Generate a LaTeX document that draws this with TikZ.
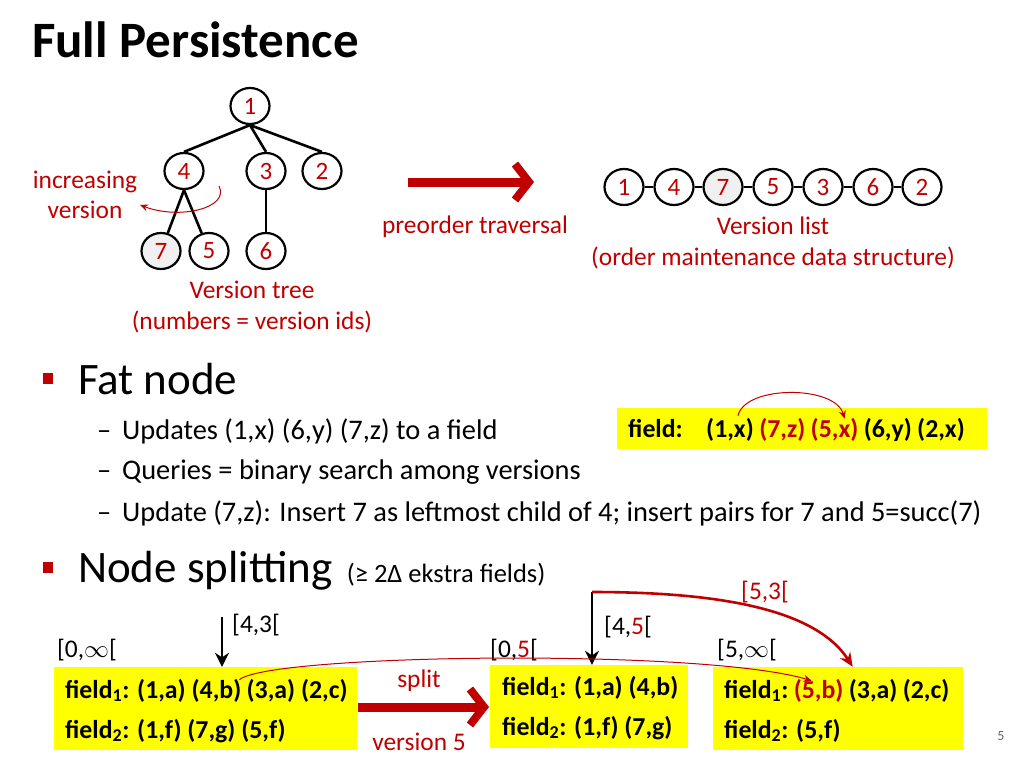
\documentclass[tikz,border=0pt]{standalone}
\usepackage{fontspec}
\setmainfont{Carlito}
\usetikzlibrary{positioning,arrows.meta,shapes.geometric}
\definecolor{darkred}{RGB}{192,0,0}
\definecolor{hiyellow}{RGB}{255,255,0}
\tikzset{
  vnode/.style  ={draw, ellipse, line width=2.2pt, minimum width=39pt, minimum height=36pt, inner sep=0pt, text=darkred, font=\fontsize{25}{29}\selectfont},
  edge/.style   ={line width=2.6pt},
  link/.style   ={line width=2pt},
  lbl/.style    ={text=darkred, align=center, inner sep=0pt, font=\fontsize{25.4}{30.5}\selectfont},
  head/.style   ={anchor=base west, inner sep=0pt, font=\fontsize{45}{50}\selectfont},
  item/.style   ={anchor=base west, inner sep=0pt, font=\fontsize{28.4}{32}\selectfont},
  ival/.style   ={anchor=base west, inner sep=0pt, font=\fontsize{25.4}{29}\selectfont},
  bullet/.style ={fill=darkred, inner sep=0pt, minimum width=10pt, minimum height=11pt},
  ybox/.style   ={fill=hiyellow, inner sep=0pt},
  fld/.style    ={anchor=base west, inner sep=0pt, font=\bfseries\fontsize{25.8}{29}\selectfont},
  bigarr/.style ={draw=darkred, line width=9pt, -{Straight Barb[length=14pt, width=36pt, line width=8pt]}},
  thinarr/.style={draw=darkred, line width=1pt, -{Stealth[length=8pt, width=7pt]}},
  redarr/.style ={draw=darkred, line width=2.6pt, -{Stealth[length=14pt, width=12pt]}},
  downarr/.style={line width=2.8pt, -{Stealth[length=14pt, width=14pt]}},
}
\begin{document}
\begin{tikzpicture}[x=1pt, y=-1pt]
  \useasboundingbox (0,0) rectangle (1024,768);

  % Title
  \node[anchor=base west, inner sep=0pt, font=\bfseries\fontsize{51}{56}\selectfont] (title) at (32,58) {Full Persistence};

  % Version tree
  \node[vnode] (v1) at (250,106) {1};
  \node[vnode] (v4) at (184,171) {4};
  \node[vnode] (v3) at (266,171) {3};
  \node[vnode] (v2) at (322,171) {2};
  \node[vnode, fill=gray!12] (v7) at (161,251) {7};
  \node[vnode] (v5) at (209,251) {5};
  \node[vnode] (v6) at (266,251) {6};
  \draw[edge] (v1.south) -- (v4.north);
  \draw[edge] (v1.south) -- (v3.north);
  \draw[edge] (v1.south) -- (v2.north);
  \draw[edge] (v4.south) -- (v7);
  \draw[edge] (v4.south) -- (v5);
  \draw[edge] (v3.south) -- (v6.north);

  \node[lbl] (incr) at (85,195) {increasing\\version};
  \coordinate (incA) at (219,186);
  \coordinate (incB) at (140,205);
  \draw[thinarr] (incA) .. controls (230,208) and (180,220) .. (incB);
  \node[lbl] (treelbl) at (252,307) {Version tree\\(numbers = version ids)};

  % preorder traversal
  \coordinate (pa) at (408,182);
  \coordinate (pb) at (534,182);
  \draw[bigarr] (pa) -- (pb);
  \node[lbl] (trav) at (475,227) {preorder traversal};

  % Version list
  \node[vnode] (l1) at (624,187) {1};
  \node[vnode] (l2) at (674,187) {4};
  \node[vnode, fill=gray!12] (l3) at (723,187) {7};
  \node[vnode] (l4) at (773,187) {5};
  \node[vnode] (l5) at (823,187) {3};
  \node[vnode] (l6) at (873,187) {6};
  \node[vnode] (l7) at (922,187) {2};
  \foreach \a/\b in {l1/l2,l2/l3,l3/l4,l4/l5,l5/l6,l6/l7}
    \draw[link] (\a.east) -- (\b.west);
  \node[lbl] (listlbl) at (773,243) {Version list\\(order maintenance data structure)};

  % Fat node
  \node[bullet] (b1) at (48,378) {};
  \node[head] (fat) at (78,394) {Fat node};
  \node[item] (d1) at (97,439) {--};
  \node[item] (i1) at (122,439) {Updates (1,x) (6,y) (7,z) to a field};
  \node[item] (d2) at (97,479) {--};
  \node[item] (i2) at (122,479) {Queries = binary search among versions};
  \node[item] (d3) at (97,521) {--};
  \node[item] (i3) at (122,521) {Update (7,z): Insert 7 as leftmost child of 4; insert pairs for 7 and 5=succ(7)};

  \node[ybox, minimum width=370pt, minimum height=41pt] (fbox) at (802,428.5) {};
  \node[fld] (f0) at (628,437) {field:};
  \node[fld] (p1) at (706,437) {(1,x)};
  \node[fld, text=darkred] (p2) at ([xshift=5pt]p1.base east) {(7,z)};
  \node[fld, text=darkred] (p3) at ([xshift=5pt]p2.base east) {(5,x)};
  \node[fld] (p4) at ([xshift=5pt]p3.base east) {(6,y)};
  \node[fld] (p5) at ([xshift=5pt]p4.base east) {(2,x)};
  \draw[thinarr] ([xshift=8pt, yshift=2pt]p1.north) .. controls (745,385) and (835,385) .. ([xshift=10pt, yshift=-1pt]p3.north);

  % Node splitting
  \node[bullet] (b2) at (48,567) {};
  \node[head] (split) at (78,582) {Node splitting};
  \node[ival, font=\fontsize{26.5}{30}\selectfont] (delta) at ([xshift=14pt]split.base east) {(≥ 2∆ ekstra fields)};

  % before the split
  \node[ybox, minimum width=303pt, minimum height=83pt] (nd1) at (205.5,708.5) {};
  \node[fld] (a1) at (65,698) {field\textsubscript{1}: (1,a) (4,b)};
  \node[fld] (a1r) at ([xshift=5pt]a1.base east) {(3,a) (2,c)};
  \node[fld] (a2) at (65,738) {field\textsubscript{2}: (1,f) (7,g) (5,f)};
  \node[ival] (r0) at (57,657) {[0,$\infty$[};
  \coordinate (q1) at (222,617);
  \draw[downarr] (q1) -- (q1 |- nd1.north);
  \node[ival] (r1) at (232,632) {[4,3[};

  % split arrow
  \coordinate (sa) at (358,707);
  \coordinate (sb) at (489,707);
  \draw[bigarr] (sa) -- (sb);
  \node[lbl] (spl) at (419,681) {split};
  \node[lbl] (ver) at (419,742) {version 5};

  % after the split
  \node[ybox, minimum width=198pt, minimum height=83pt] (nd2) at (589,706.5) {};
  \node[fld] (b1l) at (502,695) {field\textsubscript{1}: (1,a) (4,b)};
  \node[fld] (b2l) at (502,735) {field\textsubscript{2}: (1,f) (7,g)};
  \node[ival] (r2) at (490,657) {[0,\textcolor{darkred}{5}[};

  \node[ybox, minimum width=250pt, minimum height=83pt] (nd3) at (838,708.5) {};
  \node[fld] (c1) at (724,698) {field\textsubscript{1}:};
  \node[fld, text=darkred] (c1p) at ([xshift=5pt]c1.base east) {(5,b)};
  \node[fld] (c1q) at ([xshift=5pt]c1p.base east) {(3,a)};
  \node[fld] (c1r) at ([xshift=5pt]c1q.base east) {(2,c)};
  \node[fld] (c2) at (724,738) {field\textsubscript{2}: (5,f)};
  \node[ival] (r3) at (717,657) {[5,$\infty$[};

  \coordinate (q2) at (592,592);
  \draw[downarr] (q2) -- (q2 |- nd2.north);
  \node[ival] (r4) at (604,634) {[4,\textcolor{darkred}{5}[};
  \draw[redarr] (q2) .. controls (715,592) and (815,608) .. ([xshift=4pt]c1q.north west |- nd3.north);
  \node[ival, text=darkred] (r5) at (741,599) {[5,3[};

  % pointer from (4,b) into the new node
  \draw[thinarr] ([xshift=-2pt, yshift=-1pt]a1.north east) .. controls (270,654) and (700,648) .. ([xshift=18pt, yshift=-2pt]c1p.north west);

  % page number
  \node[inner sep=0pt, text=gray!80!black, font=\fontsize{14}{16}\selectfont] (pg) at (1001,736) {5};
\end{tikzpicture}
\end{document}
